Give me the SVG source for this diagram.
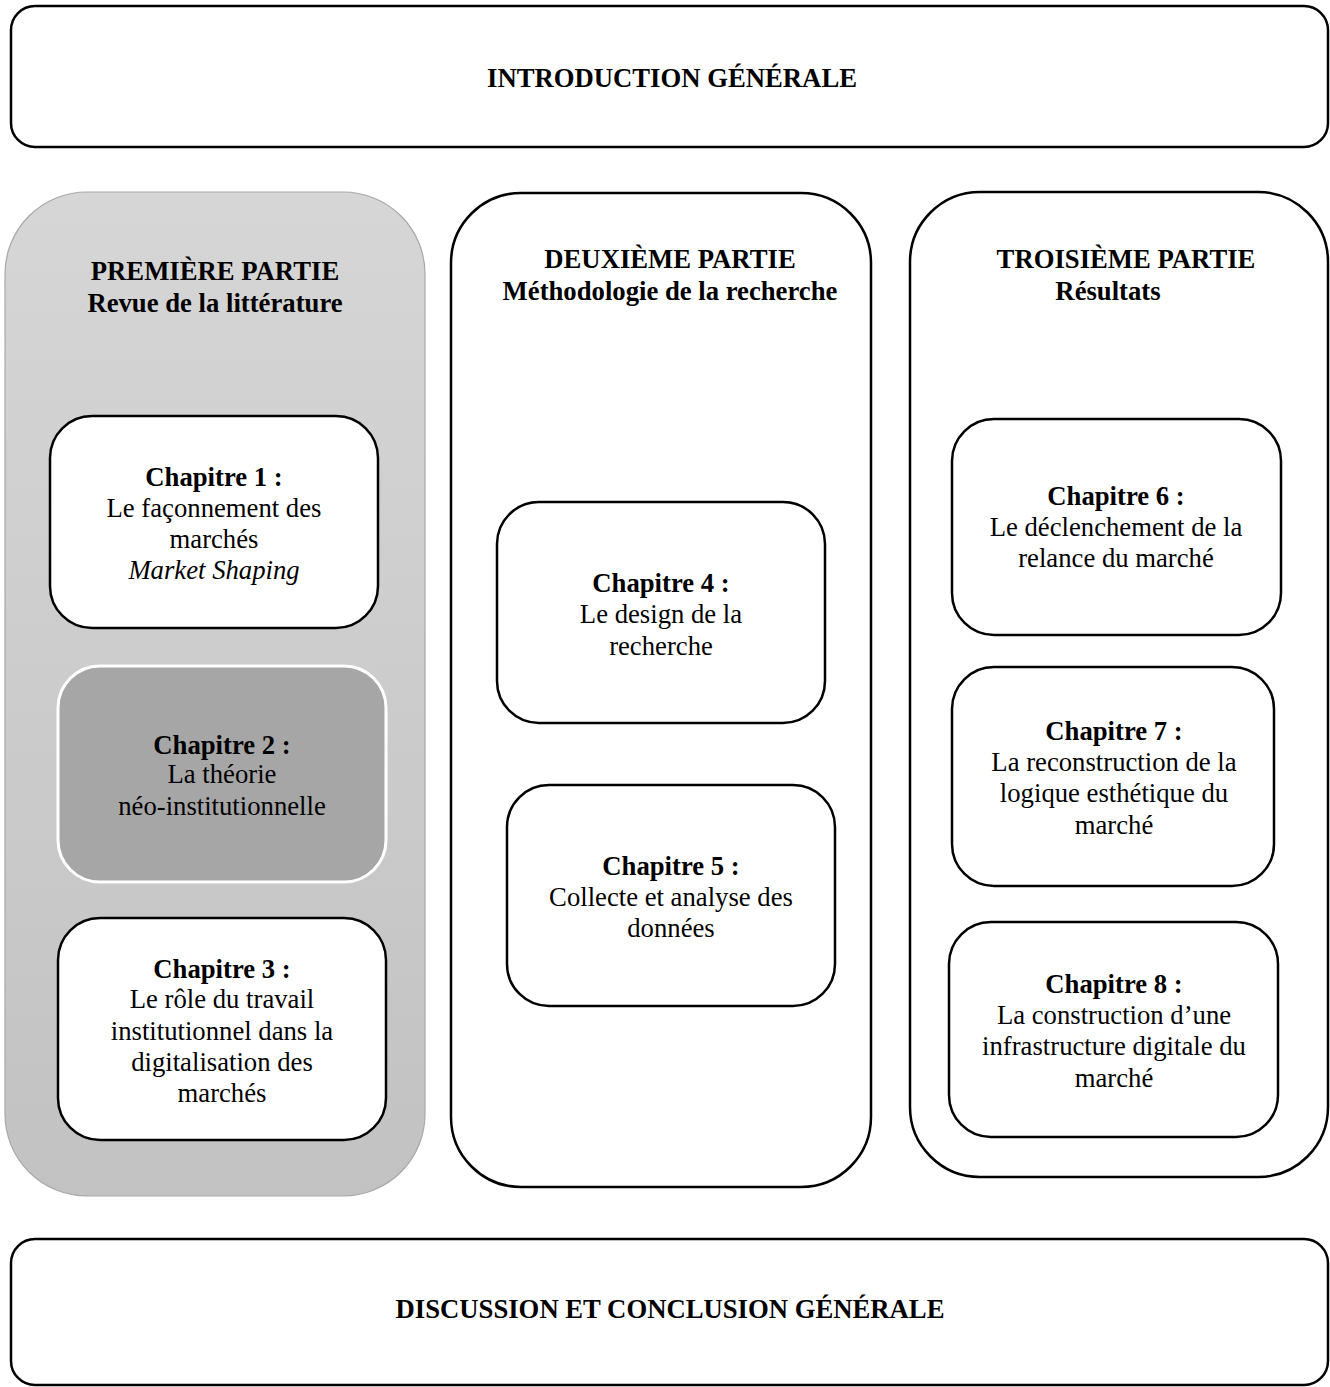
<svg xmlns="http://www.w3.org/2000/svg" width="1330" height="1387" viewBox="0 0 1330 1387" font-family="'Liberation Serif', 'Times New Roman', serif">
<defs>
<linearGradient id="g1" x1="0" y1="0" x2="0" y2="1">
<stop offset="0" stop-color="#d6d6d6"/>
<stop offset="1" stop-color="#c2c2c2"/>
</linearGradient>
<style>
text{font-family:'Liberation Serif','Times New Roman',serif;font-size:26.7px;fill:#000;text-anchor:middle}
.b{font-weight:bold}
.i{font-style:italic}
.box{fill:#fff;stroke:#000;stroke-width:2.5}
</style>
</defs>
<rect width="1330" height="1387" fill="#fff"/>
<g id="intro">
<rect class="box" x="11" y="6" width="1317" height="141" rx="24"/>
<text class="b" x="672" y="87">INTRODUCTION GÉNÉRALE</text>
</g>
<g id="partie1">
<rect x="5" y="192" width="420" height="1004" rx="82" fill="url(#g1)" stroke="#a8a8a8" stroke-width="1.2"/>
<text class="b" x="215" y="280">PREMIÈRE PARTIE</text>
<text class="b" x="215" y="312">Revue de la littérature</text>
</g>
<g id="partie2">
<rect class="box" x="451" y="193" width="420" height="994" rx="70"/>
<text class="b" x="670" y="268">DEUXIÈME PARTIE</text>
<text class="b" x="670" y="300">Méthodologie de la recherche</text>
</g>
<g id="partie3">
<rect class="box" x="910" y="192" width="418" height="985" rx="70"/>
<text class="b" x="1126" y="268">TROISIÈME PARTIE</text>
<text class="b" x="1108" y="300">Résultats</text>
</g>
<g id="ch1">
<rect class="box" x="50" y="416" width="328" height="212" rx="42"/>
<text class="b" x="214" y="486">Chapitre 1 :</text>
<text x="214" y="517">Le façonnement des</text>
<text x="214" y="548">marchés</text>
<text class="i" x="214" y="579">Market Shaping</text>
</g>
<g id="ch2">
<rect x="58" y="666" width="328" height="216" rx="42" fill="#a6a6a6" stroke="#fff" stroke-width="3"/>
<text class="b" x="222" y="754">Chapitre 2 :</text>
<text x="222" y="783">La théorie</text>
<text x="222" y="815">néo-institutionnelle</text>
</g>
<g id="ch3">
<rect class="box" x="58" y="918" width="328" height="222" rx="42"/>
<text class="b" x="222" y="978">Chapitre 3 :</text>
<text x="222" y="1008">Le rôle du travail</text>
<text x="222" y="1040">institutionnel dans la</text>
<text x="222" y="1071">digitalisation des</text>
<text x="222" y="1102">marchés</text>
</g>
<g id="ch4">
<rect class="box" x="497" y="502" width="328" height="221" rx="42"/>
<text class="b" x="661" y="592">Chapitre 4 :</text>
<text x="661" y="623">Le design de la</text>
<text x="661" y="655">recherche</text>
</g>
<g id="ch5">
<rect class="box" x="507" y="785" width="328" height="221" rx="42"/>
<text class="b" x="671" y="875">Chapitre 5 :</text>
<text x="671" y="906">Collecte et analyse des</text>
<text x="671" y="937">données</text>
</g>
<g id="ch6">
<rect class="box" x="952" y="419" width="329" height="216" rx="42"/>
<text class="b" x="1116" y="505">Chapitre 6 :</text>
<text x="1116" y="536">Le déclenchement de la</text>
<text x="1116" y="567">relance du marché</text>
</g>
<g id="ch7">
<rect class="box" x="952" y="667" width="322" height="219" rx="42"/>
<text class="b" x="1114" y="740">Chapitre 7 :</text>
<text x="1114" y="771">La reconstruction de la</text>
<text x="1114" y="802">logique esthétique du</text>
<text x="1114" y="834">marché</text>
</g>
<g id="ch8">
<rect class="box" x="949" y="922" width="329" height="215" rx="42"/>
<text class="b" x="1114" y="993">Chapitre 8 :</text>
<text x="1114" y="1024">La construction d’une</text>
<text x="1114" y="1055">infrastructure digitale du</text>
<text x="1114" y="1087">marché</text>
</g>
<g id="conclusion">
<rect class="box" x="11" y="1239" width="1317" height="146" rx="24"/>
<text class="b" x="670" y="1318">DISCUSSION ET CONCLUSION GÉNÉRALE</text>
</g>
<g id="connectors"></g>
</svg>
